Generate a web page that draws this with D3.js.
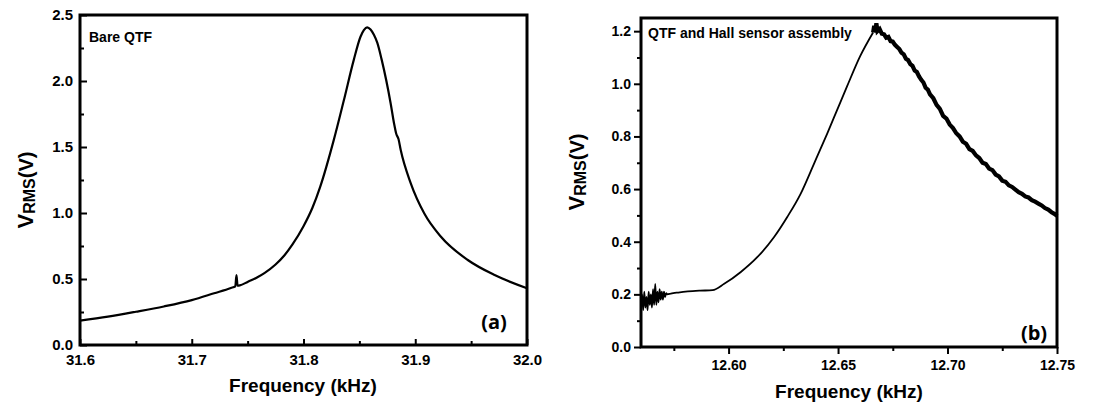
<!DOCTYPE html>
<html>
<head>
<meta charset="utf-8">
<script src="https://cdn.jsdelivr.net/npm/d3@7"></script>
<style>
  html, body { margin: 0; padding: 0; background: #fff; }
  svg { display: block; }
  text { font-family: "Liberation Sans", Arial, sans-serif; font-weight: bold; fill: #000; }
</style>
</head>
<body>
<svg id="chart" width="1118" height="412"></svg>
<script>
// ---------------- Data: panel (a) Bare QTF ----------------
const bareFreq = [31.600, 31.625, 31.650, 31.675, 31.700, 31.720, 31.735, 31.739, 31.740, 31.741, 31.743, 31.750, 31.758, 31.765,
                  31.775, 31.783, 31.790, 31.800, 31.808, 31.815, 31.827, 31.836, 31.845, 31.851, 31.854, 31.857, 31.860, 31.863,
                  31.866, 31.870, 31.878, 31.881, 31.883, 31.885, 31.887, 31.896, 31.908, 31.923, 31.947, 31.971, 32.000];
const bareV    = [0.185, 0.215, 0.252, 0.292, 0.340, 0.392, 0.432, 0.445, 0.530, 0.450, 0.452, 0.478, 0.510, 0.545,
                  0.610, 0.680, 0.760, 0.900, 1.040, 1.200, 1.550, 1.850, 2.160, 2.335, 2.385, 2.407, 2.390, 2.350,
                  2.290, 2.160, 1.830, 1.680, 1.600, 1.560, 1.477, 1.225, 0.998, 0.820, 0.644, 0.530, 0.430];

// ---------------- Data: panel (b) QTF and Hall sensor assembly ----------------
const riseFreq = [12.5600, 12.5605, 12.5610, 12.5615, 12.5620, 12.5625, 12.5630, 12.5635, 12.5640, 12.5645,
                  12.5650, 12.5655, 12.5660, 12.5665, 12.5670, 12.5675, 12.5680, 12.5685, 12.5690, 12.5695,
                  12.5700, 12.5705, 12.5710, 12.5715, 12.5720, 12.5736, 12.5770, 12.5814, 12.5870, 12.5927,
                  12.5980, 12.6056, 12.6132, 12.6208, 12.6268, 12.6329, 12.6390, 12.6450, 12.6495, 12.6541,
                  12.6601, 12.6660];
const riseV    = [0.150, 0.200, 0.140, 0.210, 0.150, 0.190, 0.140, 0.210, 0.160, 0.200,
                  0.150, 0.220, 0.160, 0.240, 0.160, 0.210, 0.170, 0.220, 0.180, 0.210,
                  0.180, 0.210, 0.190, 0.205, 0.200, 0.203, 0.207, 0.211, 0.214, 0.216,
                  0.240, 0.285, 0.342, 0.418, 0.494, 0.582, 0.696, 0.810, 0.899, 0.990,
                  1.105, 1.195];
const decayFreq = [12.6660, 12.6665, 12.6670, 12.6675, 12.6680, 12.6690, 12.6700, 12.6710, 12.6720, 12.6730,
                   12.6740, 12.6750, 12.6760, 12.6770, 12.6780, 12.6790, 12.6800, 12.6810, 12.6820, 12.6830,
                   12.6840, 12.6850, 12.6860, 12.6870, 12.6880, 12.6890, 12.6900, 12.6910, 12.6920, 12.6935,
                   12.6950, 12.6965, 12.6980, 12.6995, 12.7010, 12.7025, 12.7040, 12.7055, 12.7070, 12.7085,
                   12.7100, 12.7115, 12.7130, 12.7145, 12.7160, 12.7175, 12.7190, 12.7205, 12.7220, 12.7235,
                   12.7250, 12.7265, 12.7280, 12.7295, 12.7310, 12.7325, 12.7340, 12.7355, 12.7370, 12.7385,
                   12.7400, 12.7415, 12.7430, 12.7445, 12.7460, 12.7475, 12.7490, 12.7500];
const decayV    = [1.195, 1.220, 1.195, 1.230, 1.200, 1.208, 1.190, 1.188, 1.175, 1.178,
                   1.162, 1.160, 1.148, 1.140, 1.132, 1.118, 1.112, 1.095, 1.090, 1.075,
                   1.068, 1.050, 1.045, 1.028, 1.015, 1.005, 0.985, 0.978, 0.960, 0.945,
                   0.920, 0.905, 0.878, 0.868, 0.845, 0.832, 0.812, 0.800, 0.780, 0.772,
                   0.752, 0.745, 0.728, 0.718, 0.700, 0.695, 0.678, 0.672, 0.655, 0.648,
                   0.632, 0.628, 0.614, 0.608, 0.598, 0.588, 0.582, 0.572, 0.568, 0.558,
                   0.552, 0.545, 0.538, 0.528, 0.522, 0.512, 0.505, 0.498];

// ---------------- Tick labels ----------------
const aXMajor = [31.6, 31.7, 31.8, 31.9, 32.0];
const aXMinor = [31.65, 31.75, 31.85, 31.95];
const aYMajor = [0.0, 0.5, 1.0, 1.5, 2.0, 2.5];
const aYMinor = [0.25, 0.75, 1.25, 1.75, 2.25];
const bXMajor = [12.60, 12.65, 12.70, 12.75];
const bXMinor = [12.575, 12.625, 12.675, 12.725];
const bYMajor = [0.0, 0.2, 0.4, 0.6, 0.8, 1.0, 1.2];
const bYMinor = [0.1, 0.3, 0.5, 0.7, 0.9, 1.1];

const svg = d3.select("#chart");

function styleAxis(g) {
  g.select(".domain").remove();
  g.selectAll(".tick line").attr("stroke", "#000").attr("stroke-width", 2);
}
function styleLabels(g, size) {
  g.selectAll("text").attr("font-size", size).attr("font-family", null);
}

// ============ Panel (a) ============
const ax = d3.scaleLinear().domain([31.6, 32.0]).range([80, 527]);
const ay = d3.scaleLinear().domain([0, 2.5]).range([345, 15]);
const ga = svg.append("g");

ga.append("g").attr("transform", "translate(0,345)")
  .call(d3.axisBottom(ax).tickValues(aXMajor).tickFormat(d3.format(".1f")).tickSize(-6).tickPadding(9))
  .call(styleAxis).call(styleLabels, 15);
ga.append("g").attr("transform", "translate(0,345)")
  .call(d3.axisBottom(ax).tickValues(aXMinor).tickFormat("").tickSize(-4)).call(styleAxis);
ga.append("g").attr("transform", "translate(80,0)")
  .call(d3.axisLeft(ay).tickValues(aYMajor).tickFormat(d3.format(".1f")).tickSize(-7).tickPadding(7))
  .call(styleAxis).call(styleLabels, 15);
ga.append("g").attr("transform", "translate(80,0)")
  .call(d3.axisLeft(ay).tickValues(aYMinor).tickFormat("").tickSize(-4)).call(styleAxis);

ga.append("path").datum(bareFreq.map((f, i) => [f, bareV[i]]))
  .attr("fill", "none").attr("stroke", "#000").attr("stroke-width", 2.2)
  .attr("stroke-linejoin", "round")
  .attr("d", d3.line().x(d => ax(d[0])).y(d => ay(d[1])).curve(d3.curveMonotoneX));

ga.append("rect").attr("x", 80).attr("y", 15).attr("width", 447).attr("height", 330)
  .attr("fill", "none").attr("stroke", "#000").attr("stroke-width", 3);

ga.append("text").attr("x", 89).attr("y", 42).attr("font-size", 14).text("Bare QTF");
ga.append("text").attr("x", 494).attr("y", 329).attr("text-anchor", "middle")
  .attr("font-size", 20).style("font-family", "'Open Sans', sans-serif").style("font-weight", 700).text("(a)");
ga.append("text").attr("x", 303).attr("y", 392).attr("text-anchor", "middle")
  .attr("font-size", 19).text("Frequency (kHz)");

function yLabel(g, cx, cy) {
  const t = g.append("text").attr("transform", `translate(${cx},${cy}) rotate(-90)`)
    .attr("text-anchor", "middle");
  t.append("tspan").attr("font-size", 22).text("V");
  t.append("tspan").attr("font-size", 16).attr("dy", 2).text("RMS");
  t.append("tspan").attr("font-size", 20).attr("dy", -2).text("(V)");
}
yLabel(ga, 33, 190);

// ============ Panel (b) ============
const bx = d3.scaleLinear().domain([12.56, 12.75]).range([641, 1057]);
const by = d3.scaleLinear().domain([0, 1.25]).range([347, 18]);
const gb = svg.append("g");

gb.append("g").attr("transform", "translate(0,347)")
  .call(d3.axisBottom(bx).tickValues(bXMajor).tickFormat(d3.format(".2f")).tickSize(7).tickPadding(6))
  .call(styleAxis).call(styleLabels, 14);
gb.append("g").attr("transform", "translate(0,347)")
  .call(d3.axisBottom(bx).tickValues(bXMinor).tickFormat("").tickSize(4)).call(styleAxis);
gb.append("g").attr("transform", "translate(641,0)")
  .call(d3.axisLeft(by).tickValues(bYMajor).tickFormat(d3.format(".1f")).tickSize(7).tickPadding(3))
  .call(styleAxis).call(styleLabels, 14);
gb.append("g").attr("transform", "translate(641,0)")
  .call(d3.axisLeft(by).tickValues(bYMinor).tickFormat("").tickSize(4)).call(styleAxis);

gb.append("path").datum(riseFreq.map((f, i) => [f, riseV[i]]))
  .attr("fill", "none").attr("stroke", "#000").attr("stroke-width", 1.8)
  .attr("stroke-linejoin", "round")
  .attr("d", d3.line().x(d => bx(d[0])).y(d => by(d[1])).curve(d3.curveMonotoneX));
gb.append("path").datum(decayFreq.map((f, i) => [f, decayV[i]]))
  .attr("fill", "none").attr("stroke", "#000").attr("stroke-width", 4.2)
  .attr("stroke-linejoin", "miter")
  .attr("d", d3.line().x(d => bx(d[0])).y(d => by(d[1])));

gb.append("rect").attr("x", 641).attr("y", 18).attr("width", 416).attr("height", 329)
  .attr("fill", "none").attr("stroke", "#000").attr("stroke-width", 3);

gb.append("text").attr("x", 648).attr("y", 38).attr("font-size", 14).text("QTF and Hall sensor assembly");
gb.append("text").attr("x", 1034).attr("y", 340).attr("text-anchor", "middle")
  .attr("font-size", 20).style("font-family", "'Open Sans', sans-serif").style("font-weight", 700).text("(b)");
gb.append("text").attr("x", 849).attr("y", 398).attr("text-anchor", "middle")
  .attr("font-size", 19).text("Frequency (kHz)");
yLabel(gb, 584, 172);
</script>
</body>
</html>
